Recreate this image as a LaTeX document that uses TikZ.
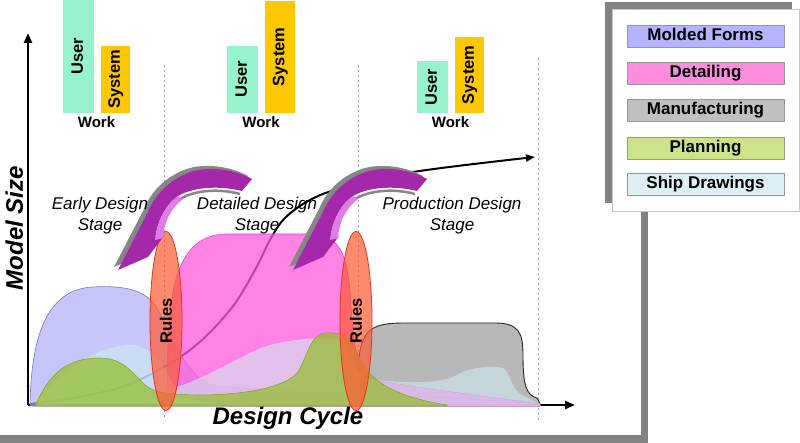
\documentclass[tikz,border=0pt]{standalone}
\usepackage{fontspec}
\setmainfont{Liberation Sans}
\usetikzlibrary{shapes.geometric,arrows.meta}
\definecolor{panelshadow}{RGB}{130,130,130}
\definecolor{usergreen}{RGB}{150,243,205}
\definecolor{sysorange}{RGB}{255,200,0}
\definecolor{legMolded}{RGB}{180,180,255}
\definecolor{legDetail}{RGB}{255,140,222}
\definecolor{legManuf}{RGB}{192,192,192}
\definecolor{legPlan}{RGB}{205,227,138}
\definecolor{legShip}{RGB}{220,239,243}
\definecolor{legBorder}{RGB}{150,150,150}
\definecolor{boxBorder}{RGB}{200,200,200}
\definecolor{moldedFill}{RGB}{175,175,250}
\definecolor{moldedLine}{RGB}{120,120,175}
\definecolor{detailFill}{RGB}{255,90,220}
\definecolor{detailLine}{RGB}{225,70,200}
\definecolor{manufFill}{RGB}{172,172,172}
\definecolor{manufLine}{RGB}{40,40,40}
\definecolor{planFill}{RGB}{150,190,50}
\definecolor{planLine}{RGB}{130,170,40}
\definecolor{shipFill}{RGB}{205,235,242}
\definecolor{rulesFill}{RGB}{255,90,50}
\definecolor{rulesLine}{RGB}{225,50,30}
\definecolor{arrPurple}{RGB}{165,40,170}
\definecolor{arrLight}{RGB}{222,125,228}
\definecolor{arrShadow}{RGB}{135,135,135}
\definecolor{sepGray}{RGB}{160,160,160}
\begin{document}
\begin{tikzpicture}[x=1pt,y=-1pt,
  bar/.style={rotate=90, inner sep=0pt, text height=12pt, text depth=3.5pt, font=\bfseries\fontsize{16.5}{16.5}\selectfont},
  userbar/.style={bar, fill=usergreen},
  sysbar/.style={bar, fill=sysorange},
  worklabel/.style={anchor=base, font=\bfseries\fontsize{15}{15}\selectfont},
  stagelabel/.style={align=center, font=\itshape\fontsize{17}{21}\selectfont},
  legitem/.style={draw=legBorder, line width=0.6pt, minimum width=157pt, minimum height=22pt, inner sep=0pt, text height=12pt, text depth=3.5pt, font=\bfseries\fontsize{17}{17}\selectfont},
  rulesell/.style={ellipse, rotate=90, minimum width=179pt, minimum height=32pt, inner sep=0pt, fill=rulesFill, fill opacity=0.7, draw=rulesLine, line width=0.8pt, text opacity=1, font=\bfseries\fontsize{16.5}{16.5}\selectfont},
  sepline/.style={sepGray, line width=0.9pt, dash pattern=on 2pt off 3pt},
  axisline/.style={line width=2.5pt, -{Triangle[length=10pt,width=8pt]}},
  growth/.style={line width=2pt, -{Triangle[length=9pt,width=7pt]}},
  axislabel/.style={font=\bfseries\itshape\fontsize{24}{24}\selectfont},
  molded/.style={fill=moldedFill, fill opacity=0.7, draw=moldedLine, line width=0.6pt},
  detail/.style={fill=detailFill, fill opacity=0.75, draw=detailLine, line width=0.6pt},
  manuf/.style={fill=manufFill, fill opacity=0.85},
  manufedge/.style={draw=manufLine, line width=0.9pt},
  plan/.style={fill=planFill, fill opacity=0.75, draw=planLine, line width=0.6pt},
  ship/.style={fill=shipFill, fill opacity=0.6},
]
\useasboundingbox (0,0) rectangle (800,443);
% main panel with shadow
\fill[panelshadow] (0,12) rectangle (648,443);
\fill[white] (0,0) rectangle (641,435);

% stage separators
\draw[sepline] (164,65) -- (164,420);
\draw[sepline] (358,65) -- (358,420);
\draw[sepline] (538,58) -- (538,420);

% axes
\coordinate (o) at (28,405);
\coordinate (ytip) at (28,33);
\coordinate (xtip) at (575,405);
\draw[axisline] (o) -- (ytip);
\draw[axisline] (o) -- (xtip);

% growth curve
\draw[growth] plot[smooth, tension=0.6] coordinates {(30,404) (90,395) (137,381) (190,350) (230,310) (255,270) (270,240) (285,218) (310,200) (342,188) (413,172) (535,157)};

% manufacturing
\path[manuf] (358,380) .. controls (358,330) and (368,323) .. (405,323) -- (495,323) .. controls (518,323) and (523,332) .. (523,355) .. controls (523,385) and (526,395) .. (537,398) -- (540,404) -- (540,406) -- (358,406) -- cycle;
\path[manufedge] (358,380) .. controls (358,330) and (368,323) .. (405,323) -- (495,323) .. controls (518,323) and (523,332) .. (523,355) .. controls (523,385) and (526,395) .. (537,398) -- (540,404);

% molded forms
\path[molded] (30,406) .. controls (31,340) and (45,290) .. (92,287) .. controls (130,285) and (145,292) .. (155,305) .. controls (168,325) and (180,370) .. (210,385) .. controls (260,392) and (420,394) .. (540,404) -- (540,406) -- cycle;

% detailing
\path[detail] (168,395) .. controls (166,300) and (172,236) .. (225,234) -- (310,234) .. controls (338,235) and (346,250) .. (350,290) .. controls (353,345) and (356,372) .. (375,380) .. controls (430,390) and (500,398) .. (540,404) -- (540,406) -- (230,406) .. controls (200,400) .. (168,395) -- cycle;

% ship drawings
\path[ship] (35,406) .. controls (60,370) and (100,345) .. (130,345) .. controls (150,345) and (160,360) .. (175,387) .. controls (205,380) and (245,352) .. (270,345) .. controls (290,340) and (320,336) .. (338,340) .. controls (350,345) and (352,372) .. (365,378) .. controls (400,384) and (440,384) .. (455,376) .. controls (465,369) and (490,364) .. (503,368) .. controls (510,372) and (510,385) .. (518,392) .. controls (528,399) and (535,402) .. (540,404) -- (540,406) -- cycle;

% planning
\path[plan] (35,406) .. controls (50,372) and (68,358) .. (100,358) .. controls (122,358) and (132,372) .. (145,385) .. controls (155,393) and (170,395) .. (205,395) .. controls (250,394) and (285,387) .. (298,372) .. controls (306,360) and (310,334) .. (325,333) .. controls (342,332) and (350,336) .. (357,352) .. controls (366,378) and (390,396) .. (447,405) -- (447,406) -- cycle;

% rules ellipses
\node[rulesell] (rules1) at (166,321) {Rules};
\node[rulesell] (rules2) at (356,321) {Rules};

% curved purple arrows
\foreach \dx in {0,175} {
\begin{scope}[shift={(\dx,0)}]
  \fill[arrShadow, shift={(-4,-3)}] (252,179) .. controls (232,168) and (205,166) .. (188,173) .. controls (168,181) and (155,195) .. (148,212) -- (118,270) -- (148,257) -- (164,236) -- (155,240) .. controls (157,222) and (165,205) .. (178,196) .. controls (195,186) and (222,186) .. (242,191) -- cycle;
  \draw[arrShadow, line width=2.5pt] (180,199) .. controls (197,189) and (222,189) .. (240,194);
  \fill[arrPurple] (252,179) .. controls (232,168) and (205,166) .. (188,173) .. controls (168,181) and (155,195) .. (148,212) -- (118,270) -- (148,257) -- (164,236) -- (155,240) .. controls (157,222) and (165,205) .. (178,196) .. controls (195,186) and (222,186) .. (242,191) -- cycle;
  \fill[arrLight] (155,240) .. controls (157,222) and (165,205) .. (178,196) -- (183,199) .. controls (171,208) and (164,222) .. (163,238) -- cycle;
\end{scope}
}

% stage labels
\node[stagelabel] (early) at (100,216) {Early Design\\Stage};
\node[stagelabel] (detailed) at (257,216) {Detailed Design\\Stage};
\node[stagelabel] (production) at (452,216) {Production Design\\Stage};

% axis labels
\node[axislabel, rotate=90, anchor=base] (ylabel) at (23,228) {Model Size};
\node[axislabel, anchor=base] (xlabel) at (288,424) {Design Cycle};

% work bars
\node[userbar, minimum width=113pt, minimum height=31pt] (u1) at (78.5,56.5) {User};
\node[sysbar, minimum width=67pt, minimum height=29pt] (s1) at (115.5,79.5) {System};
\node[worklabel] (w1) at (96.5,128) {Work};
\node[userbar, minimum width=67pt, minimum height=31pt] (u2) at (242.5,79.5) {User};
\node[sysbar, minimum width=112pt, minimum height=30pt] (s2) at (280,57) {System};
\node[worklabel] (w2) at (261,128) {Work};
\node[userbar, minimum width=52pt, minimum height=31pt] (u3) at (432.5,87) {User};
\node[sysbar, minimum width=76pt, minimum height=29pt] (s3) at (469.5,75) {System};
\node[worklabel] (w3) at (450.5,128) {Work};

% legend
\fill[panelshadow] (605,2) rectangle (792,203);
\draw[boxBorder, fill=white, line width=1pt] (612,10) rectangle (799.5,212);
\node[legitem, fill=legMolded] (lm) at (705.5,36) {Molded Forms};
\node[legitem, fill=legDetail] (ld) at (705.5,73) {Detailing};
\node[legitem, fill=legManuf] (lf) at (705.5,110.5) {Manufacturing};
\node[legitem, fill=legPlan] (lp) at (705.5,148) {Planning};
\node[legitem, fill=legShip] (ls) at (705.5,184) {Ship Drawings};
\end{tikzpicture}
\end{document}
